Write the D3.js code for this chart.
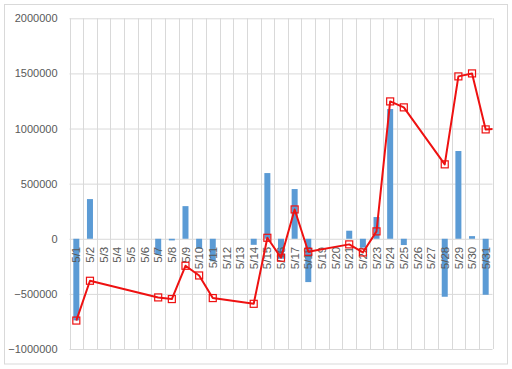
<!DOCTYPE html>
<html>
<head>
<meta charset="utf-8">
<script src="https://cdn.jsdelivr.net/npm/d3@7"></script>
<style>
  body { margin: 0; background: #fff; }
  svg { display: block; font-family: "Liberation Sans", Arial, sans-serif; }
</style>
</head>
<body>
<svg id="chart"></svg>
<script>
const width = 512;
const height = 369;

// categories (5/1 .. 5/31)
const days = ["5/1","5/2","5/3","5/4","5/5","5/6","5/7","5/8","5/9","5/10",
  "5/11","5/12","5/13","5/14","5/15","5/16","5/17","5/18","5/19","5/20",
  "5/21","5/22","5/23","5/24","5/25","5/26","5/27","5/28","5/29","5/30","5/31"];

// bar series (daily)
const barDays = ["5/1","5/2","5/7","5/8","5/9","5/10","5/11","5/14","5/15","5/16",
  "5/17","5/18","5/21","5/22","5/23","5/24","5/25","5/28","5/29","5/30","5/31"];
const barValues = [-740000, 360000, -145000, -15000, 296000, -91000, -205000, -55000, 596000, -181000,
  451000, -393000, 73000, -80000, 197000, 1177000, -57000, -526000, 796000, 24000, -508000];

// line series (running total)
const lineDays = ["5/1","5/2","5/7","5/8","5/9","5/10","5/11","5/14","5/15","5/16",
  "5/17","5/18","5/21","5/22","5/23","5/24","5/25","5/28","5/29","5/30","5/31"];
const lineValues = [-742000, -381000, -532000, -547000, -245000, -333000, -538000, -590000, 9000, -172000,
  266000, -118000, -51000, -124000, 67000, 1246000, 1192000, 675000, 1473000, 1500000, 992000];
// the line continues past the last category (cut off at the plot edge)
const lineTail = 1000000;

const yTicks = [-1000000, -500000, 0, 500000, 1000000, 1500000, 2000000];

const svg = d3.select("#chart")
  .attr("width", width)
  .attr("height", height);

// chart border
svg.append("rect")
  .attr("x", 4.5).attr("y", 4.5)
  .attr("width", 503).attr("height", 359.5)
  .attr("fill", "#fff")
  .attr("stroke", "#d9d9d9");

const plotL = 69.5, plotR = 492.5, plotT = 18.3, plotB = 349;

const x = d3.scaleBand().domain(days).range([plotL, plotR]);
const y = d3.scaleLinear().domain([-1000000, 2000000]).range([plotB, plotT]);

// horizontal gridlines + y labels
const yAxis = svg.append("g")
  .attr("transform", `translate(${plotL},0)`)
  .call(d3.axisLeft(y).tickValues(yTicks).tickFormat(d3.format("d"))
    .tickSize(-(plotR - plotL)).tickPadding(12));
yAxis.select(".domain").remove();
yAxis.selectAll(".tick line").attr("stroke", "#d9d9d9");
yAxis.selectAll(".tick text")
  .attr("fill", "#595959")
  .style("font-size", "11px");

// vertical gridlines at category boundaries
const gridX = days.map(d => x(d)).concat([plotR]);
svg.append("g")
  .selectAll("line")
  .data(gridX)
  .join("line")
  .attr("x1", d => Math.round(d) + 0.5).attr("x2", d => Math.round(d) + 0.5)
  .attr("y1", plotT).attr("y2", plotB)
  .attr("stroke", "#d9d9d9");

// bars
const barW = x.bandwidth() * 0.44;
svg.append("g")
  .selectAll("rect")
  .data(barDays.map((d, i) => ({day: d, v: barValues[i]})))
  .join("rect")
  .attr("x", d => x(d.day) + (x.bandwidth() - barW) / 2)
  .attr("y", d => y(Math.max(0, d.v)))
  .attr("width", barW)
  .attr("height", d => Math.abs(y(d.v) - y(0)))
  .attr("fill", "#5b9bd5");

// category labels next to the zero line
const xAxis = svg.append("g")
  .attr("transform", `translate(0,${y(0)})`)
  .call(d3.axisBottom(x).tickSize(0).tickPadding(0));
xAxis.select(".domain").remove();
xAxis.selectAll(".tick text")
  .attr("fill", "#595959")
  .style("font-size", "11.5px")
  .attr("text-anchor", "end")
  .attr("transform", "rotate(-90)")
  .attr("x", -8)
  .attr("y", 0)
  .attr("dy", "0.36em");

// line
svg.append("clipPath").attr("id", "plotClip")
  .append("rect")
  .attr("x", plotL).attr("y", 0)
  .attr("width", plotR - plotL).attr("height", height);

const pts = lineDays.map((d, i) => [x(d) + x.bandwidth() / 2, y(lineValues[i])]);
const lastPt = pts[pts.length - 1];
const linePts = pts.concat([[lastPt[0] + x.bandwidth(), y(lineTail)]]);

svg.append("path")
  .attr("clip-path", "url(#plotClip)")
  .attr("d", d3.line()(linePts))
  .attr("fill", "none")
  .attr("stroke", "#ee1111")
  .attr("stroke-width", 2)
  .attr("stroke-linejoin", "round");

svg.append("g")
  .selectAll("rect")
  .data(pts)
  .join("rect")
  .attr("x", d => d[0] - 3.5)
  .attr("y", d => d[1] - 3.5)
  .attr("width", 7)
  .attr("height", 7)
  .attr("fill", "none")
  .attr("stroke", "#ee1111")
  .attr("stroke-width", 1.2);
</script>
</body>
</html>
